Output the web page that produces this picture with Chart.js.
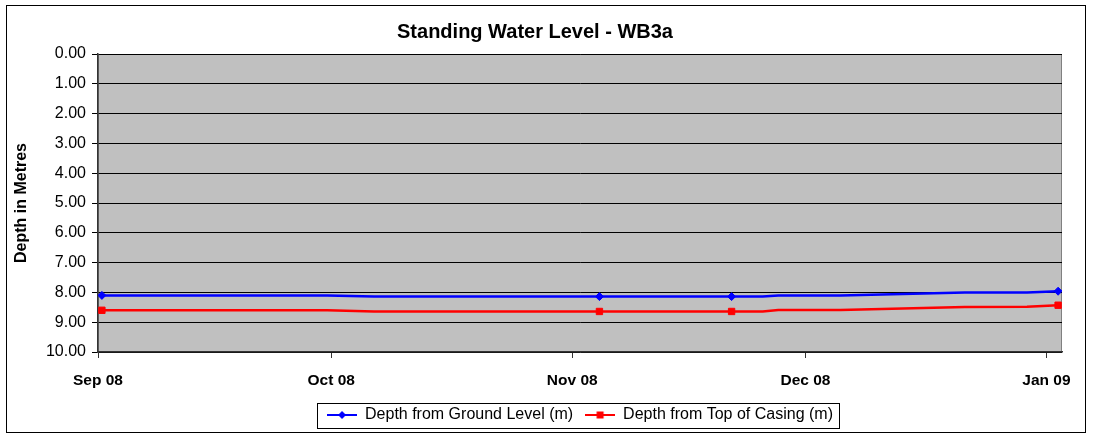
<!DOCTYPE html>
<html>
<head>
<meta charset="utf-8">
<title>Standing Water Level - WB3a</title>
<script src="https://cdn.jsdelivr.net/npm/chart.js@4.4.0/dist/chart.umd.min.js"></script>
<style>
  html, body { margin:0; padding:0; background:#fff; }
  #wrap { position:relative; width:1094px; height:436px; }
</style>
</head>
<body>
<div id="wrap"><canvas id="chartSwl" width="1094" height="436"></canvas></div>
<script>
// readings (dates of the dips), values in metres below datum
const DATES = ['2008-09-01','2008-09-30','2008-10-06','2008-11-04','2008-11-21','2008-11-25','2008-11-27','2008-12-05','2008-12-21','2008-12-29','2009-01-02'];
const GROUND = [8.10, 8.10, 8.14, 8.14, 8.14, 8.14, 8.10, 8.10, 8.00, 8.00, 7.96];
const CASING = [8.60, 8.60, 8.64, 8.64, 8.64, 8.64, 8.59, 8.59, 8.49, 8.48, 8.43];
const MARKED = [true, false, false, true, true, false, false, false, false, false, true];
const MONTH_TICKS = ['2008-09-01','2008-10-01','2008-11-01','2008-12-01','2009-01-01'];
const MONTH_LABELS = ['Sep 08','Oct 08','Nov 08','Dec 08','Jan 09'];
const AXIS_END = '2009-01-03';

const FONT = "'Liberation Sans', Arial, sans-serif";
const t0 = Date.UTC(2008, 8, 1);
const dayOf = s => {
  const [y, m, d] = s.split('-').map(Number);
  return (Date.UTC(y, m - 1, d) - t0) / 86400000;
};
// Excel-style date axis: each point sits in the middle of its day
const xs = DATES.map(d => dayOf(d) + 0.5);
const tickDays = MONTH_TICKS.map(dayOf);

function legendSymbol(color, shape) {
  const c = document.createElement('canvas');
  c.width = 30; c.height = 12;
  const g = c.getContext('2d');
  g.strokeStyle = color; g.fillStyle = color; g.lineWidth = 2;
  g.beginPath(); g.moveTo(0, 6); g.lineTo(30, 6); g.stroke();
  g.beginPath();
  if (shape === 'diamond') {
    g.moveTo(15, 2); g.lineTo(19, 6); g.lineTo(15, 10); g.lineTo(11, 6);
  } else {
    g.rect(11.5, 2.5, 7, 7);
  }
  g.closePath(); g.fill();
  return c;
}
const SYMBOLS = [legendSymbol('#0000ff', 'diamond'), legendSymbol('#ff0000', 'square')];

const plotBg = {
  id: 'plotBg',
  beforeDraw(chart) {
    const { ctx, chartArea: a } = chart;
    ctx.save();
    ctx.fillStyle = '#fff';
    ctx.fillRect(0, 0, chart.width, chart.height);
    ctx.strokeStyle = '#000'; ctx.lineWidth = 1;
    ctx.strokeRect(6.5, 5.5, 1079, 427);
    ctx.fillStyle = '#c0c0c0';
    ctx.fillRect(a.left, a.top, a.width, a.height);
    ctx.strokeStyle = '#808080';
    ctx.strokeRect(a.left + 0.5, a.top + 0.5, a.width - 1, a.height - 1);
    ctx.restore();
  },
  afterDraw(chart) {
    const boxes = chart.legend && chart.legend.legendHitBoxes;
    if (!boxes || !boxes.length) return;
    const first = boxes[0], last = boxes[boxes.length - 1];
    const yc = first.top + first.height / 2;
    const ctx = chart.ctx;
    ctx.save();
    ctx.strokeStyle = '#000'; ctx.lineWidth = 1;
    ctx.strokeRect(Math.round(first.left - 10) + 0.5, Math.round(yc - 12) + 0.5,
      Math.round(last.left + last.width + 6 - (first.left - 10)), 25);
    ctx.restore();
  }
};

new Chart(document.getElementById('chartSwl'), {
  type: 'line',
  data: {
    datasets: [
      { label: 'Depth from Ground Level (m)',
        data: xs.map((x, i) => ({ x, y: GROUND[i] })),
        borderColor: '#0000ff', backgroundColor: '#0000ff', borderWidth: 2.5,
        pointStyle: 'rectRot', pointRadius: MARKED.map(m => m ? 4 : 0), pointBorderWidth: 1,
        tension: 0 },
      { label: 'Depth from Top of Casing (m)',
        data: xs.map((x, i) => ({ x, y: CASING[i] })),
        borderColor: '#ff0000', backgroundColor: '#ff0000', borderWidth: 2.5,
        pointStyle: 'rect', pointRadius: MARKED.map(m => m ? 4.5 : 0), pointBorderWidth: 1,
        tension: 0 }
    ]
  },
  options: {
    responsive: false, animation: false, maintainAspectRatio: false,
    layout: { padding: { left: 8, right: 32, top: 6, bottom: 3 } },
    plugins: {
      title: { display: true, text: 'Standing Water Level - WB3a', color: '#000',
        font: { family: FONT, size: 20, weight: 'bold' }, padding: { top: 14, bottom: 10 } },
      legend: {
        position: 'bottom', fullSize: false,
        labels: {
          color: '#000', font: { family: FONT, size: 16 }, padding: 12,
          usePointStyle: true, pointStyleWidth: 30,
          generateLabels(chart) {
            const items = Chart.defaults.plugins.legend.labels.generateLabels(chart);
            items.forEach((it, i) => { it.pointStyle = SYMBOLS[i]; });
            return items;
          }
        }
      },
      tooltip: { enabled: false }
    },
    scales: {
      x: {
        type: 'linear', min: 0, max: dayOf(AXIS_END),
        afterBuildTicks(scale) { scale.ticks = tickDays.map(v => ({ value: v })); },
        afterFit(scale) { scale.height = 43; },
        grid: { drawOnChartArea: false, color: '#333', tickLength: 6, tickWidth: 1 },
        border: { color: '#333', width: 1.5 },
        ticks: { color: '#000', padding: 13, maxRotation: 0, autoSkip: false,
          font: { family: FONT, size: 15.5, weight: 'bold' },
          callback: v => MONTH_LABELS[tickDays.indexOf(v)] || '' }
      },
      y: {
        reverse: true, min: 0, max: 10,
        afterFit(scale) { scale.width = 90; },
        grid: { color: '#000', tickLength: 6, lineWidth: 1 },
        border: { color: '#333', width: 1.5 },
        ticks: { stepSize: 1, color: '#000', padding: 6,
          font: { family: FONT, size: 16 }, callback: v => Number(v).toFixed(2) },
        title: { display: true, text: 'Depth in Metres', color: '#000',
          font: { family: FONT, size: 16, weight: 'bold' }, padding: { top: 4, bottom: 0 } }
      }
    }
  },
  plugins: [plotBg]
});
</script>
</body>
</html>
